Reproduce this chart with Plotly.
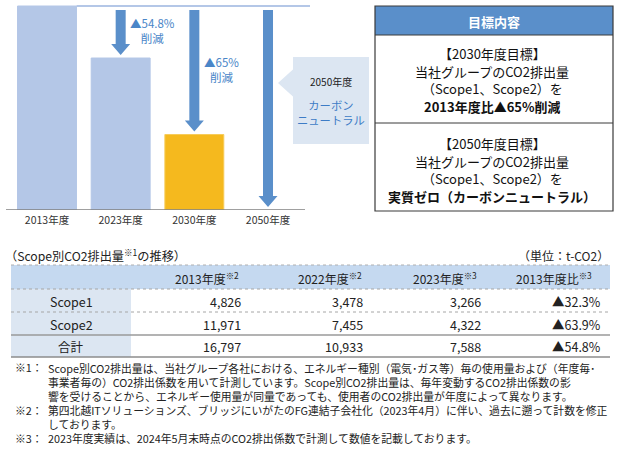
import plotly.graph_objects as go

W, H = 624, 450
FONT = "Noto Sans CJK JP"

# ---------------- data ----------------
years = ["2013年度", "2023年度", "2030年度", "2050年度"]
index_values = [100, 74.5, 37, 0]          # schematic heights (2013 = 100)
bar_colors = ["#b4c7e7", "#b4c7e7", "#f5b91e", "rgba(0,0,0,0)"]
arrow_labels = ["▲54.8%<br>削減", "▲65%<br>削減"]

callout_year = "2050年度"
callout_text = "カーボン<br>ニュートラル"

goal_header = "目標内容"
goal_2030 = ["【2030年度目標】", "当社グループのCO2排出量", "（Scope1、Scope2）を", "<b>2013年度比▲65%削減</b>"]
goal_2050 = ["【2050年度目標】", "当社グループのCO2排出量", "（Scope1、Scope2）を", "<b>実質ゼロ（カーボンニュートラル）</b>"]

table_title = "（Scope別CO2排出量<sup>※1</sup>の推移）"
table_unit = "（単位：t-CO2）"
col_labels = ["2013年度", "2022年度", "2023年度", "2013年度比"]
col_notes = ["※2", "※2", "※3", "※3"]
row_labels = ["Scope1", "Scope2", "合計"]
v2013 = [4826, 11971, 16797]
v2022 = [3478, 7455, 10933]
v2023 = [3266, 4322, 7588]
ratio = [32.3, 63.9, 54.8]

footnote_marks = ["※1：", "", "", "※2：", "", "※3："]
footnote_lines = [
    "Scope別CO2排出量は、当社グループ各社における、エネルギー種別（電気･ガス等）毎の使用量および（年度毎･",
    "事業者毎の）CO2排出係数を用いて計測しています。Scope別CO2排出量は、毎年変動するCO2排出係数の影",
    "響を受けることから、エネルギー使用量が同量であっても、使用者のCO2排出量が年度によって異なります。",
    "第四北越ITソリューションズ、ブリッジにいがたのFG連結子会社化（2023年4月）に伴い、過去に遡って計数を修正",
    "しております。",
    "2023年度実績は、2024年5月末時点のCO2排出係数で計測して数値を記載しております。",
]

# ---------------- layout helpers ----------------
X0_PX, STEP_PX = 47.0, 73.67      # bar-axis: pixel of category 0, spacing
BASE_PX, TOP_PX = 210.0, 6.0      # baseline / value-100 pixel rows
PX_PER_UNIT = (BASE_PX - TOP_PX) / 100.0


def bx(px):
    return (px - X0_PX) / STEP_PX


def by(py):
    return (BASE_PX - py) / PX_PER_UNIT


fig = go.Figure()

# bars
fig.add_trace(go.Bar(
    x=list(range(len(years))), y=index_values, width=0.8,
    marker=dict(color=bar_colors,
                line=dict(color=["#b4c7e7", "#b4c7e7", "#f7cc5a", "rgba(0,0,0,0)"], width=1)),
    xaxis="x", yaxis="y", hoverinfo="skip", showlegend=False,
))

shapes = []
annotations = []

# top reference line (2013 level) and baseline
shapes.append(dict(type="line", xref="x", yref="y", x0=0.4, x1=bx(310), y0=index_values[0], y1=index_values[0],
                   line=dict(color="#b4c7e7", width=2)))
shapes.append(dict(type="line", xref="x", yref="y", x0=bx(6), x1=bx(305), y0=0, y1=0,
                   line=dict(color="#808080", width=1.5)))

# block arrows from the 2013 level down to each later year
ARROW_COL = "#5a8fca"
shaft = 5.0 / STEP_PX
head = 9.5 / STEP_PX
head_len = 11 / PX_PER_UNIT
start = by(10)
for i in range(1, len(years)):
    tip = index_values[i] + 1.5
    c = i
    p = (f"M {c-shaft},{start} L {c+shaft},{start} L {c+shaft},{tip+head_len} L {c+head},{tip+head_len} "
         f"L {c},{tip} L {c-head},{tip+head_len} L {c-shaft},{tip+head_len} Z")
    shapes.append(dict(type="path", xref="x", yref="y", path=p, fillcolor=ARROW_COL,
                       line=dict(width=0), layer="above"))

label_pos = [(bx(152), by(30)), (bx(221), by(69))]
for (lx, ly), txt in zip(label_pos, arrow_labels):
    annotations.append(dict(xref="x", yref="y", x=lx, y=ly, text=txt, showarrow=False,
                            font=dict(family=FONT, size=11.5, color="#4a86c8"),
                            align="center", xanchor="center", yanchor="middle"))

# callout (pixel overlay axis x2/y2)
shapes.append(dict(type="rect", xref="x2", yref="y2", x0=293, x1=369, y0=57, y1=144,
                   fillcolor="#dce6f2", line=dict(width=0)))
shapes.append(dict(type="path", xref="x2", yref="y2", path="M 293.5,69 L 278,83 L 293.5,97 Z",
                   fillcolor="#dce6f2", line=dict(width=0)))
annotations.append(dict(xref="x2", yref="y2", x=331, y=81, text=callout_year, showarrow=False,
                        font=dict(family=FONT, size=10, color="#222222"), xanchor="center", yanchor="middle"))
annotations.append(dict(xref="x2", yref="y2", x=331, y=112, text=callout_text, showarrow=False,
                        font=dict(family=FONT, size=11.3, color="#3d7cc6"), xanchor="center", yanchor="middle",
                        align="center"))

# goals box
BOX_L, BOX_R = 375, 613
shapes.append(dict(type="rect", xref="x2", yref="y2", x0=BOX_L, x1=BOX_R, y0=6, y1=35,
                   fillcolor="#5a8fca", line=dict(width=0)))
shapes.append(dict(type="rect", xref="x2", yref="y2", x0=BOX_L, x1=BOX_R, y0=6, y1=211,
                   fillcolor="rgba(0,0,0,0)", line=dict(color="#3a3a3a", width=1.2)))
shapes.append(dict(type="line", xref="x2", yref="y2", x0=BOX_L, x1=BOX_R, y0=35, y1=35,
                   line=dict(color="#3a3a3a", width=1)))
shapes.append(dict(type="line", xref="x2", yref="y2", x0=BOX_L, x1=BOX_R, y0=123, y1=123,
                   line=dict(color="#3a3a3a", width=1)))
annotations.append(dict(xref="x2", yref="y2", x=(BOX_L + BOX_R) / 2, y=21, text=f"<b>{goal_header}</b>",
                        showarrow=False, font=dict(family=FONT, size=13, color="white"),
                        xanchor="center", yanchor="middle"))
for block, y0 in ((goal_2030, 53), (goal_2050, 143)):
    for k, line in enumerate(block):
        annotations.append(dict(xref="x2", yref="y2", x=(BOX_L + BOX_R) / 2 - 2, y=y0 + k * 17.6, text=line,
                                showarrow=False, font=dict(family=FONT, size=13, color="#111111"),
                                xanchor="center", yanchor="middle", height=16, borderpad=0))

# table
annotations.append(dict(xref="x2", yref="y2", x=3, y=255, text=table_title, showarrow=False,
                        font=dict(family=FONT, size=12.2, color="#222222"), xanchor="left", yanchor="middle"))
annotations.append(dict(xref="x2", yref="y2", x=611, y=255, text=table_unit, showarrow=False,
                        font=dict(family=FONT, size=12, color="#222222"), xanchor="right", yanchor="middle"))

T_L, T_R, T_C = 11, 610, 131
row_edges = [265, 289, 312, 335, 357]
shapes.append(dict(type="rect", xref="x2", yref="y2", x0=T_L, x1=T_R, y0=row_edges[0], y1=row_edges[1],
                   fillcolor="#c5d9f0", line=dict(width=0), layer="below"))
shapes.append(dict(type="rect", xref="x2", yref="y2", x0=T_L, x1=T_C, y0=row_edges[1], y1=row_edges[-1],
                   fillcolor="#dce6f2", line=dict(width=0), layer="below"))
line_styles = [("#b0b0b0", 1, "dot"), ("#a6a6a6", 1, "dot"), ("#a6a6a6", 1, "dot"),
               ("#9a9a9a", 1.5, "solid"), ("#8c8c8c", 1.5, "solid")]
for ye, (lc, lw, ld) in zip(row_edges, line_styles):
    shapes.append(dict(type="line", xref="x2", yref="y2", x0=T_L, x1=T_R, y0=ye, y1=ye,
                       line=dict(color=lc, width=lw, dash=ld)))

head_right = [241, 364, 479, 594]
val_right = [243, 365, 483, 603]
hy = (row_edges[0] + row_edges[1]) / 2 + 1
for lab, note, xr in zip(col_labels, col_notes, head_right):
    annotations.append(dict(xref="x2", yref="y2", x=xr, y=hy, text=f"{lab}<sup>{note}</sup>", showarrow=False,
                            font=dict(family=FONT, size=12, color="#222222"), xanchor="right", yanchor="middle"))

columns = [[f"{v:,}" for v in v2013], [f"{v:,}" for v in v2022], [f"{v:,}" for v in v2023],
           [f"▲{r:.1f}%" for r in ratio]]
for r, lab in enumerate(row_labels):
    ry = (row_edges[r + 1] + row_edges[r + 2]) / 2 + 0.5
    annotations.append(dict(xref="x2", yref="y2", x=(T_L + T_C) / 2, y=ry, text=lab, showarrow=False,
                            font=dict(family=FONT, size=12.5, color="#222222"), xanchor="center", yanchor="middle"))
    for col, xr in zip(columns, val_right):
        annotations.append(dict(xref="x2", yref="y2", x=xr, y=ry, text=col[r], showarrow=False,
                                font=dict(family=FONT, size=12.5, color="#222222"), xanchor="right",
                                yanchor="middle"))

# footnotes: one multi-line block for the body, marks aligned to its lines
FN_SIZE = 10.8
FN_LH = 1.3 * FN_SIZE
FN_CENTER = 402.5
n_fn = len(footnote_lines)
annotations.append(dict(xref="x2", yref="y2", x=47, y=FN_CENTER, text="<br>".join(footnote_lines),
                        showarrow=False, align="left", font=dict(family=FONT, size=FN_SIZE, color="#222222"),
                        xanchor="left", yanchor="middle", borderpad=0))
for k, mark in enumerate(footnote_marks):
    if mark:
        fy = FN_CENTER + (k - (n_fn - 1) / 2) * FN_LH
        annotations.append(dict(xref="x2", yref="y2", x=14, y=fy, text=mark, showarrow=False,
                                font=dict(family=FONT, size=FN_SIZE, color="#222222"), xanchor="left",
                                yanchor="middle", borderpad=0))

fig.update_layout(
    width=W, height=H, margin=dict(l=0, r=0, t=0, b=0),
    paper_bgcolor="white", plot_bgcolor="rgba(0,0,0,0)",
    font=dict(family=FONT),
    showlegend=False,
    xaxis=dict(domain=[6 / W, 312 / W], range=[bx(6), bx(312)], tickvals=list(range(len(years))),
               ticktext=years, showgrid=False, zeroline=False, showline=False, ticks="",
               ticklabelstandoff=2,
               tickfont=dict(family=FONT, size=10.5, color="#333333"), fixedrange=True),
    yaxis=dict(domain=[1 - BASE_PX / H, 1.0], range=[0, by(0)], visible=False, fixedrange=True),
    xaxis2=dict(domain=[0, 1], range=[0, W], visible=False, anchor="y2", fixedrange=True),
    yaxis2=dict(domain=[0, 1], range=[H, 0], visible=False, anchor="x2", fixedrange=True),
    shapes=shapes,
    annotations=annotations,
)

fig.write_html("out.html", config={"displayModeBar": False},
               post_script="document.body.style.margin='0';document.body.style.overflow='hidden';")
